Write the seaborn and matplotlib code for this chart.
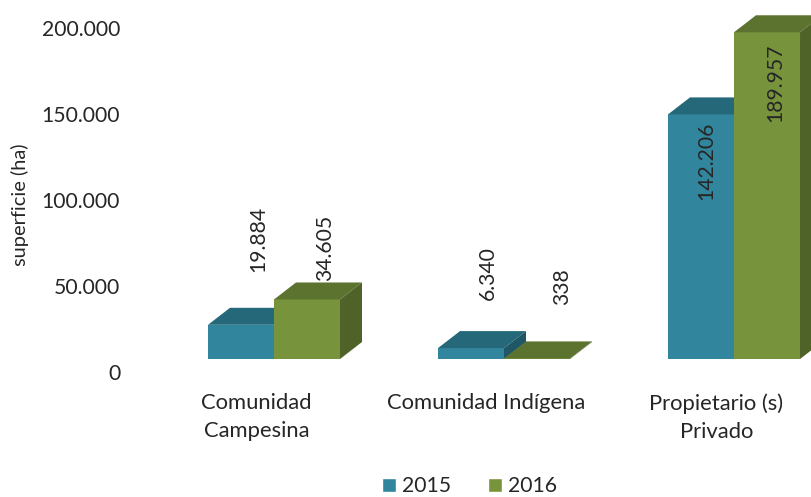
import matplotlib
matplotlib.use('Agg')
import matplotlib.pyplot as plt
from matplotlib.patches import Polygon
from matplotlib.transforms import ScaledTranslation
import pandas as pd
import seaborn as sns

# === Datos ===
categorias = ['Comunidad\nCampesina', 'Comunidad Indígena', 'Propietario (s)\nPrivado']
valores_2015 = [19884, 6340, 142206]
valores_2016 = [34605, 338, 189957]
ticks_y = [0, 50000, 100000, 150000, 200000]

df = pd.DataFrame({
    'categoria': categorias * 2,
    'anio': ['2015'] * 3 + ['2016'] * 3,
    'superficie': valores_2015 + valores_2016,
})

sns.set_theme(style='white')
plt.rcParams['font.family'] = ['Lato', 'DejaVu Sans']

W, H = 812, 497
izq, base = 125, 359
fig = plt.figure(figsize=(W / 100, H / 100), dpi=100)
ax = fig.add_axes([izq / W, (H - base) / H, (W - izq) / W, base / H])

colores = {'2015': '#31859C', '2016': '#77933C'}
sns.barplot(data=df, x='categoria', y='superficie', hue='anio', palette=colores,
            width=0.574, gap=0, saturation=1, ax=ax, errorbar=None)

# escala: 230 px entre grupos, 86 px por 50.000 ha
ax.set_xlim((izq - 274) / 230, (W - 274) / 230)
ax.set_ylim(0, base * 50000 / 86)
sns.despine(ax=ax, left=True, bottom=True)
ax.set_xlabel('')
ax.set_ylabel('superficie (ha)', fontsize=14.4, color='#262626')
ax.yaxis.set_label_coords((29 - izq) / (W - izq), (base - 205) / base)
ax.set_yticks(ticks_y, [f'{t:,}'.replace(',', '.') for t in ticks_y])
ax.tick_params(axis='y', length=0, pad=3.5, labelsize=15.2, labelcolor='#262626')
ax.tick_params(axis='x', length=0, pad=24.5, labelsize=15.8, labelcolor='#262626')

# etiquetas desplazadas como en el eje 3D
desp_y = ScaledTranslation(0, -13 / 100, fig.dpi_scale_trans)
for t in ax.get_yticklabels():
    t.set_transform(t.get_transform() + desp_y)
desp_x = ScaledTranslation(-17.5 / 100, 0, fig.dpi_scale_trans)
for t in ax.get_xticklabels():
    t.set_transform(t.get_transform() + desp_x)
    t.set_linespacing(1.5)

# === Caras 3D ===
dx = 22 / 230
dy = 17 * 50000 / 86
tapas = ['#25687A', '#5C722F']
lados = ['#1F5766', '#4F6228']
offsets = [[(17, 53), (17, 48), (5, -86)], [(18, 18), (25, 53), (8, -90)]]
for s, cont in enumerate(ax.containers):
    for i, bar in enumerate(cont):
        x0, x1 = bar.get_x(), bar.get_x() + bar.get_width()
        h = bar.get_height()
        bar.set_zorder(3 + s)
        bar.set_edgecolor('none')
        ax.add_patch(Polygon([(x0, h), (x1, h), (x1 + dx, h + dy), (x0 + dx, h + dy)],
                             facecolor=tapas[s], edgecolor='none', zorder=3 + s, clip_on=False))
        ax.add_patch(Polygon([(x1, 0), (x1 + dx, dy), (x1 + dx, h + dy), (x1, h)],
                             facecolor=lados[s], edgecolor='none', zorder=3 + s, clip_on=False))

        # === Rótulos de datos ===
        # 34.605 queda por detrás de la caja; los de dentro de la barra van encima
        z = 6 if offsets[s][i][1] < 0 else 2
        ax.annotate(f'{int(h):,}'.replace(',', '.'), ((x0 + x1) / 2, h),
                    xytext=offsets[s][i], textcoords='offset pixels',
                    rotation=90, ha='center', va='bottom', fontsize=15.2,
                    color='#262626', zorder=z)

sns.move_legend(ax, 'center', bbox_to_anchor=(469.5 / W, (H - 486.5) / H),
                bbox_transform=fig.transFigure, ncols=2, frameon=False, title=None,
                fontsize=15.2, handlelength=0.66, handleheight=0.66,
                handletextpad=0.27, columnspacing=1.78, borderpad=0, labelcolor='#262626')

plt.savefig('out.png', dpi=100)
